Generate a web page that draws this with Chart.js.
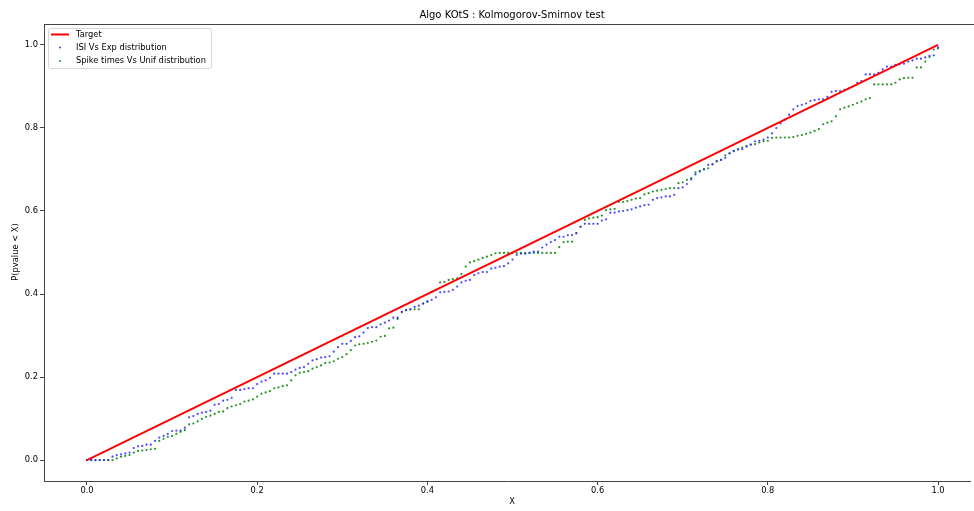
<!DOCTYPE html>
<html>
<head>
<meta charset="utf-8">
<script src="https://cdn.jsdelivr.net/npm/chart.js@4.4.1/dist/chart.umd.min.js"></script>
<style>
  html, body { margin: 0; padding: 0; background: #fff; }
  #wrap { width: 974px; height: 511px; }
</style>
</head>
<body>
<div id="wrap"><canvas id="ksChart" width="974" height="511"></canvas></div>
<script>
// DONNEES
const xValues = [
  0, 0.005, 0.01, 0.015, 0.02, 0.025, 0.03, 0.035, 0.04, 0.045,
  0.05, 0.055, 0.06, 0.065, 0.07, 0.075, 0.08, 0.085, 0.09, 0.095,
  0.1, 0.105, 0.11, 0.115, 0.12, 0.125, 0.13, 0.135, 0.14, 0.145,
  0.15, 0.155, 0.16, 0.165, 0.17, 0.175, 0.18, 0.185, 0.19, 0.195,
  0.2, 0.205, 0.21, 0.215, 0.22, 0.225, 0.23, 0.235, 0.24, 0.245,
  0.25, 0.255, 0.26, 0.265, 0.27, 0.275, 0.28, 0.285, 0.29, 0.295,
  0.3, 0.305, 0.31, 0.315, 0.32, 0.325, 0.33, 0.335, 0.34, 0.345,
  0.35, 0.355, 0.36, 0.365, 0.37, 0.375, 0.38, 0.385, 0.39, 0.395,
  0.4, 0.405, 0.41, 0.415, 0.42, 0.425, 0.43, 0.435, 0.44, 0.445,
  0.45, 0.455, 0.46, 0.465, 0.47, 0.475, 0.48, 0.485, 0.49, 0.495,
  0.5, 0.505, 0.51, 0.515, 0.52, 0.525, 0.53, 0.535, 0.54, 0.545,
  0.55, 0.555, 0.56, 0.565, 0.57, 0.575, 0.58, 0.585, 0.59, 0.595,
  0.6, 0.605, 0.61, 0.615, 0.62, 0.625, 0.63, 0.635, 0.64, 0.645,
  0.65, 0.655, 0.66, 0.665, 0.67, 0.675, 0.68, 0.685, 0.69, 0.695,
  0.7, 0.705, 0.71, 0.715, 0.72, 0.725, 0.73, 0.735, 0.74, 0.745,
  0.75, 0.755, 0.76, 0.765, 0.77, 0.775, 0.78, 0.785, 0.79, 0.795,
  0.8, 0.805, 0.81, 0.815, 0.82, 0.825, 0.83, 0.835, 0.84, 0.845,
  0.85, 0.855, 0.86, 0.865, 0.87, 0.875, 0.88, 0.885, 0.89, 0.895,
  0.9, 0.905, 0.91, 0.915, 0.92, 0.925, 0.93, 0.935, 0.94, 0.945,
  0.95, 0.955, 0.96, 0.965, 0.97, 0.975, 0.98, 0.985, 0.99, 0.995,
  1
];

const isiVsExp = [
  0, 0, 0, 0, 0, 0, 0.008, 0.012, 0.014, 0.016,
  0.018, 0.029, 0.033, 0.034, 0.037, 0.037, 0.046, 0.054, 0.058, 0.063,
  0.070, 0.071, 0.071, 0.078, 0.103, 0.106, 0.111, 0.114, 0.116, 0.119,
  0.133, 0.135, 0.143, 0.145, 0.150, 0.169, 0.169, 0.171, 0.173, 0.173,
  0.183, 0.189, 0.192, 0.198, 0.208, 0.208, 0.208, 0.208, 0.212, 0.218,
  0.222, 0.224, 0.232, 0.240, 0.243, 0.247, 0.248, 0.250, 0.261, 0.272,
  0.280, 0.280, 0.287, 0.296, 0.298, 0.307, 0.318, 0.320, 0.320, 0.327,
  0.331, 0.336, 0.343, 0.343, 0.357, 0.361, 0.363, 0.369, 0.372, 0.377,
  0.383, 0.386, 0.392, 0.404, 0.405, 0.406, 0.410, 0.418, 0.428, 0.432,
  0.434, 0.446, 0.450, 0.453, 0.453, 0.461, 0.463, 0.466, 0.467, 0.474,
  0.483, 0.494, 0.497, 0.497, 0.499, 0.502, 0.502, 0.512, 0.519, 0.525,
  0.530, 0.538, 0.538, 0.542, 0.542, 0.547, 0.562, 0.569, 0.569, 0.569,
  0.569, 0.577, 0.580, 0.596, 0.596, 0.599, 0.600, 0.602, 0.604, 0.608,
  0.611, 0.614, 0.615, 0.627, 0.631, 0.633, 0.635, 0.635, 0.639, 0.655,
  0.657, 0.665, 0.676, 0.688, 0.695, 0.700, 0.711, 0.713, 0.721, 0.723,
  0.728, 0.739, 0.744, 0.748, 0.749, 0.755, 0.760, 0.768, 0.769, 0.772,
  0.777, 0.787, 0.800, 0.811, 0.820, 0.832, 0.845, 0.853, 0.856, 0.859,
  0.865, 0.867, 0.869, 0.869, 0.875, 0.887, 0.889, 0.889, 0.892, 0.895,
  0.900, 0.909, 0.913, 0.929, 0.929, 0.929, 0.933, 0.941, 0.948, 0.948,
  0.952, 0.954, 0.955, 0.960, 0.963, 0.967, 0.967, 0.970, 0.974, 0.975,
  0.994
];

const spikeVsUnif = [
  0, 0, 0, 0, 0, 0, 0, 0.004, 0.008, 0.010,
  0.012, 0.018, 0.022, 0.023, 0.024, 0.026, 0.027, 0.046, 0.051, 0.056,
  0.058, 0.063, 0.068, 0.072, 0.086, 0.088, 0.093, 0.099, 0.104, 0.107,
  0.111, 0.116, 0.117, 0.125, 0.129, 0.132, 0.135, 0.141, 0.143, 0.146,
  0.153, 0.160, 0.163, 0.166, 0.173, 0.175, 0.178, 0.180, 0.192, 0.204,
  0.210, 0.212, 0.214, 0.220, 0.224, 0.228, 0.234, 0.235, 0.238, 0.244,
  0.248, 0.255, 0.265, 0.276, 0.279, 0.280, 0.282, 0.285, 0.288, 0.297,
  0.299, 0.317, 0.319, 0.340, 0.356, 0.361, 0.363, 0.363, 0.363, 0.377,
  0.381, 0.405, 0.410, 0.428, 0.429, 0.434, 0.436, 0.438, 0.448, 0.466,
  0.476, 0.479, 0.483, 0.487, 0.490, 0.494, 0.498, 0.499, 0.499, 0.499,
  0.499, 0.499, 0.499, 0.499, 0.499, 0.499, 0.499, 0.499, 0.499, 0.499,
  0.499, 0.513, 0.525, 0.526, 0.526, 0.546, 0.562, 0.579, 0.582, 0.584,
  0.585, 0.589, 0.602, 0.604, 0.605, 0.622, 0.622, 0.624, 0.627, 0.630,
  0.631, 0.640, 0.643, 0.647, 0.649, 0.651, 0.653, 0.655, 0.655, 0.667,
  0.669, 0.675, 0.679, 0.693, 0.697, 0.701, 0.703, 0.712, 0.719, 0.723,
  0.734, 0.739, 0.745, 0.749, 0.753, 0.757, 0.760, 0.761, 0.765, 0.768,
  0.769, 0.776, 0.777, 0.777, 0.777, 0.777, 0.778, 0.781, 0.783, 0.786,
  0.789, 0.793, 0.797, 0.809, 0.813, 0.816, 0.828, 0.845, 0.849, 0.852,
  0.856, 0.860, 0.864, 0.869, 0.872, 0.905, 0.905, 0.905, 0.905, 0.905,
  0.909, 0.917, 0.920, 0.921, 0.921, 0.946, 0.946, 0.960, 0.971, 0.989,
  0.992
];

const targetX = [0, 1];
const targetY = [0, 1];

const xTicks = [0, 0.2, 0.4, 0.6, 0.8, 1.0];
const yTicks = [0, 0.2, 0.4, 0.6, 0.8, 1.0];

const titleText = 'Algo KOtS : Kolmogorov-Smirnov test';
const xLabel = 'X';
const yLabel = 'P(pvalue < X)';
const seriesNames = ['Target', 'ISI Vs Exp distribution', 'Spike times Vs Unif distribution'];

// STYLE
const FONT = 'DejaVu Sans, Liberation Sans, sans-serif';
const toPoints = (xs, ys) => xs.map((x, i) => ({ x: x, y: ys[i] }));

// TITRE, LABELS, LEGENDE, CADRE
const mplDecor = {
    id: 'mplDecor',
    afterDraw(chart) {
        const c = chart.ctx;
        const a = chart.chartArea;
        c.save();

        // cadre haut
        c.strokeStyle = '#444';
        c.lineWidth = 1;
        c.beginPath();
        c.moveTo(a.left, a.top + 0.5);
        c.lineTo(chart.width, a.top + 0.5);
        c.stroke();

        c.fillStyle = '#000';
        c.textAlign = 'center';
        c.textBaseline = 'middle';
        c.font = '10px ' + FONT;
        c.fillText(titleText, 512, 15);

        c.font = '8.3px ' + FONT;
        c.fillText(xLabel, 512, 502);
        c.save();
        c.translate(16, 252);
        c.rotate(-Math.PI / 2);
        c.fillText(yLabel, 0, 0);
        c.restore();

        // legende
        const bx = 48.5, by = 28.5, bw = 163, bh = 40, r = 2;
        c.beginPath();
        c.moveTo(bx + r, by);
        c.arcTo(bx + bw, by, bx + bw, by + bh, r);
        c.arcTo(bx + bw, by + bh, bx, by + bh, r);
        c.arcTo(bx, by + bh, bx, by, r);
        c.arcTo(bx, by, bx + bw, by, r);
        c.closePath();
        c.fillStyle = 'rgba(255,255,255,0.8)';
        c.fill();
        c.strokeStyle = '#d6d6d6';
        c.stroke();

        c.strokeStyle = '#ff0000';
        c.lineWidth = 2;
        c.beginPath();
        c.moveTo(51, 34.5);
        c.lineTo(69, 34.5);
        c.stroke();

        c.fillStyle = 'rgba(40,40,255,0.9)';
        c.beginPath(); c.arc(60, 47.5, 1, 0, Math.PI * 2); c.fill();
        c.fillStyle = 'rgba(0,128,0,0.9)';
        c.beginPath(); c.arc(60, 61, 1, 0, Math.PI * 2); c.fill();

        c.fillStyle = '#000';
        c.textAlign = 'left';
        c.font = '8.3px ' + FONT;
        c.fillText(seriesNames[0], 76, 34.5);
        c.fillText(seriesNames[1], 76, 47.5);
        c.fillText(seriesNames[2], 76, 61);
        c.restore();
    }
};

const tickFont = { family: FONT, size: 8.3 };

new Chart(document.getElementById('ksChart').getContext('2d'), {
    type: 'scatter',
    data: {
        datasets: [
            {
                type: 'line', label: seriesNames[0], data: toPoints(targetX, targetY),
                borderColor: '#ff0000', borderWidth: 2, pointRadius: 0, fill: false, tension: 0
            },
            {
                label: seriesNames[1], data: toPoints(xValues, isiVsExp),
                backgroundColor: 'rgba(40,40,255,0.85)', borderWidth: 0, pointRadius: 1.1
            },
            {
                label: seriesNames[2], data: toPoints(xValues, spikeVsUnif),
                backgroundColor: 'rgba(0,128,0,0.85)', borderWidth: 0, pointRadius: 1.1
            }
        ]
    },
    options: {
        responsive: false,
        animation: false,
        devicePixelRatio: 1,
        layout: { padding: { top: 24, right: 0, left: 0, bottom: 0 } },
        plugins: { legend: { display: false }, tooltip: { enabled: false } },
        scales: {
            x: {
                type: 'linear', min: -0.0505, max: 1.0376,
                afterBuildTicks: s => { s.ticks = xTicks.map(v => ({ value: v })); },
                afterFit: s => { s.height = 30; },
                ticks: { callback: v => v.toFixed(1), color: '#000', font: tickFont, padding: 1, maxRotation: 0 },
                grid: { drawOnChartArea: false, drawTicks: true, tickLength: 4, color: '#444' },
                border: { display: true, color: '#444', width: 1 }
            },
            y: {
                type: 'linear', min: -0.0505, max: 1.0505,
                afterBuildTicks: s => { s.ticks = yTicks.map(v => ({ value: v })); },
                afterFit: s => { s.width = 44; },
                ticks: { callback: v => v.toFixed(1), color: '#000', font: tickFont, padding: 2 },
                grid: { drawOnChartArea: false, drawTicks: true, tickLength: 4, color: '#444' },
                border: { display: true, color: '#444', width: 1 }
            }
        }
    },
    plugins: [mplDecor]
});
</script>
</body>
</html>
